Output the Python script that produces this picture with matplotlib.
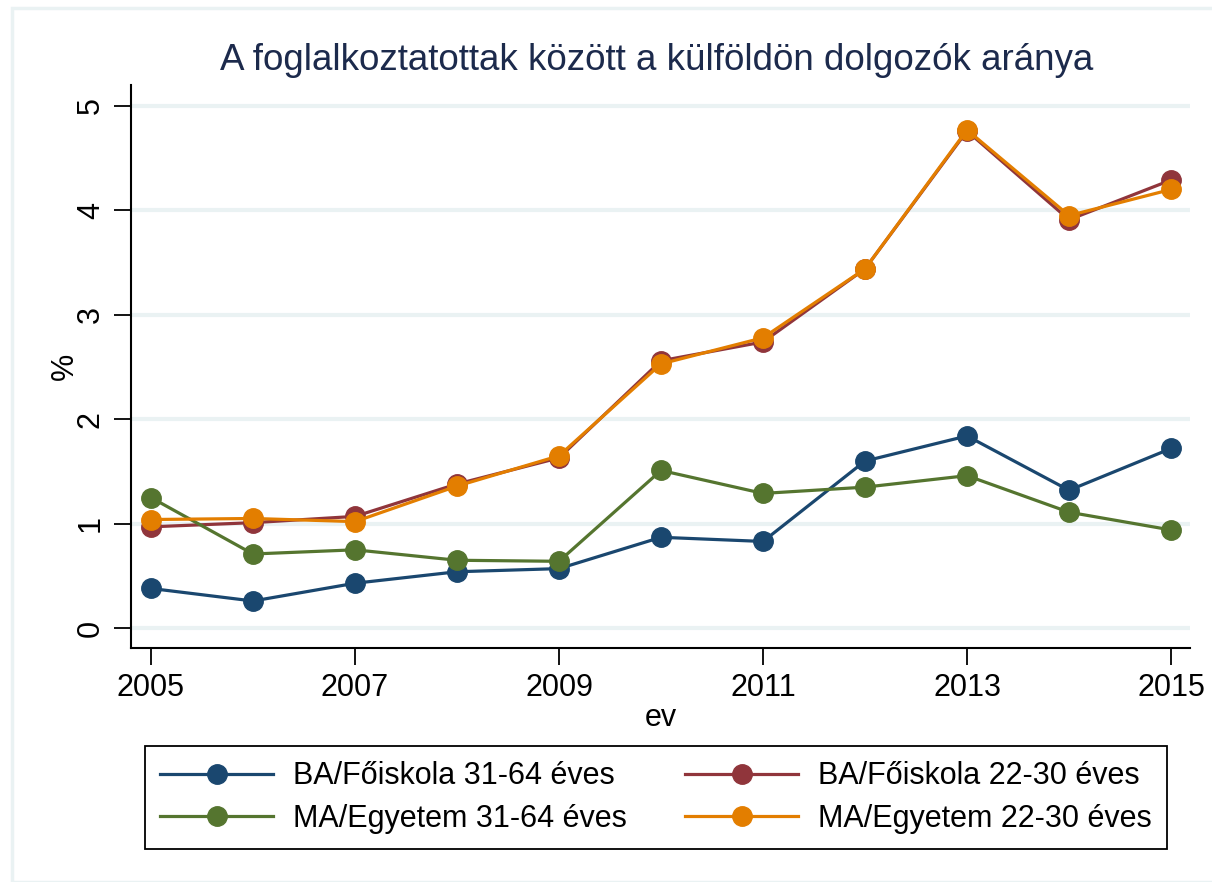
import matplotlib
matplotlib.use("Agg")
import matplotlib.pyplot as plt
from matplotlib.patches import Rectangle

plt.rcParams['font.family'] = ['Liberation Sans', 'DejaVu Sans']

# data
years = [2005, 2006, 2007, 2008, 2009, 2010, 2011, 2012, 2013, 2014, 2015]
ba_31_64 = [0.38, 0.26, 0.43, 0.54, 0.57, 0.87, 0.83, 1.60, 1.84, 1.32, 1.72]
ba_22_30 = [0.97, 1.01, 1.07, 1.38, 1.63, 2.56, 2.74, 3.44, 4.76, 3.91, 4.29]
ma_31_64 = [1.25, 0.71, 0.75, 0.65, 0.64, 1.51, 1.29, 1.35, 1.46, 1.11, 0.94]
ma_22_30 = [1.04, 1.05, 1.02, 1.36, 1.65, 2.53, 2.78, 3.44, 4.77, 3.95, 4.20]

series = [
  ("BA/Főiskola 31-64 éves", ba_31_64, "#1a476f"),
  ("BA/Főiskola 22-30 éves", ba_22_30, "#90353b"),
  ("MA/Egyetem 31-64 éves", ma_31_64, "#55752f"),
  ("MA/Egyetem 22-30 éves", ma_22_30, "#e37e00"),
]
xticks = [2005, 2007, 2009, 2011, 2013, 2015]
yticks = [0, 1, 2, 3, 4, 5]

fig = plt.figure(figsize=(12.12, 8.82), dpi=100)
# light outer frame like the stata graph region
fig.patches.append(Rectangle((12/1212, 0), 1.2, (882-8)/882, transform=fig.transFigure,
                             fill=False, edgecolor="#eaf2f3", linewidth=2.5))

ax = fig.add_axes([131/1212, 1-648/882, (1190-131)/1212, (648-85)/882])
lines = {}
for name, vals, col in series:
  l, = ax.plot(years, vals, color=col, lw=2.3, marker="o", ms=14, label=name)
  lines[name] = l

ax.set_xlim(2004.804, 2015.186)
ax.set_ylim(-0.19, 5.2)
ax.set_xticks(xticks)
ax.set_yticks(yticks)
for y in yticks:
  ax.axhline(y, color="#eaf2f3", lw=3, zorder=0)

for s in ["top", "right"]:
  ax.spines[s].set_visible(False)
ax.spines["left"].set_linewidth(1.5)
ax.spines["bottom"].set_linewidth(1.5)
ax.tick_params(axis="both", length=12, width=1.3, labelsize=22, pad=6)
plt.setp(ax.get_yticklabels(), rotation=90, va="center")

ax.set_ylabel("%", fontsize=22, labelpad=-3)
ax.set_xlabel("ev", fontsize=22, labelpad=0)
fig.text(657/1212, 1 - 61/882, "A foglalkoztatottak között a külföldön dolgozók aránya",
         ha="center", va="center", fontsize=26.5, color="#1c2a4c")

names = [s[0] for s in series]
order = [names[0], names[2], names[1], names[3]]
leg = fig.legend([lines[n] for n in order], order, ncol=2, fontsize=22,
                 loc="upper left", bbox_to_anchor=(145/1212, 1-746/882),
                 frameon=True, fancybox=False, edgecolor="black", framealpha=1,
                 handlelength=3.7, handletextpad=0.65, columnspacing=1.9,
                 borderaxespad=0.0, borderpad=0.5, labelspacing=0.42)
leg.get_frame().set_linewidth(1.3)

fig.savefig("out.png", dpi=100)
